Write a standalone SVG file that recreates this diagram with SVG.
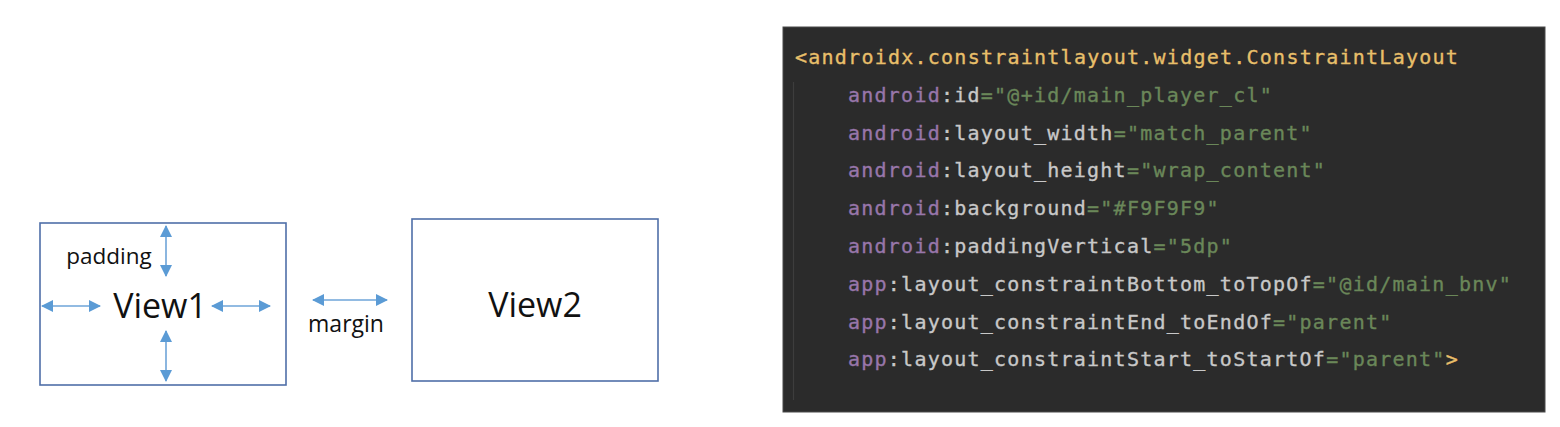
<svg xmlns="http://www.w3.org/2000/svg" width="1560" height="427" viewBox="0 0 1560 427">
<style>
.box{fill:#ffffff;stroke:#4f6fa8;stroke-width:1.6}
.lbl{font-family:"Open Sans","Noto Sans",sans-serif;fill:#111111}
.arr{stroke:#6ea4d8;stroke-width:1.6;fill:none;marker-start:url(#ah);marker-end:url(#ah)}
.code{font-family:"DejaVu Sans Mono","Liberation Mono",monospace;font-size:20px;letter-spacing:1.24px;stroke-width:0.35}
.tag{fill:#e8bf6a;stroke:#e8bf6a}
.ns{fill:#9876aa;stroke:#9876aa}
.at{fill:#c8c8c8;stroke:#c8c8c8}
.val{fill:#6a8759;stroke:#6a8759}
</style>
<defs>
<marker id="ah" viewBox="0 0 12 12" refX="11" refY="6" markerWidth="12" markerHeight="12" markerUnits="userSpaceOnUse" orient="auto-start-reverse">
<path d="M0,0 L12,6 L0,12 Z" fill="#5b9bd5"/>
</marker>
</defs>
<rect width="1560" height="427" fill="#ffffff"/>
<g id="view1">
<rect class="box" x="40" y="223" width="246" height="162"/>
<text class="lbl" x="160" y="318" font-size="34" text-anchor="middle">View1</text>
<text class="lbl" x="109" y="264" font-size="22.5" text-anchor="middle">padding</text>
</g>
<g id="view2">
<rect class="box" x="412" y="219" width="246" height="162"/>
<text class="lbl" x="535" y="317" font-size="34" text-anchor="middle">View2</text>
</g>
<g id="margin-label">
<text class="lbl" x="346" y="332" font-size="23" text-anchor="middle">margin</text>
</g>
<g id="connectors">
<line class="arr" x1="166" y1="226" x2="166" y2="276"/>
<line class="arr" x1="166" y1="331" x2="166" y2="381"/>
<line class="arr" x1="42" y1="306" x2="100" y2="306"/>
<line class="arr" x1="212" y1="306" x2="270" y2="306"/>
<line class="arr" x1="313" y1="300" x2="387" y2="300"/>
</g>
<g id="code-panel">
<rect x="783" y="27" width="762" height="385" fill="#2b2b2b" stroke="#4a4a4a" stroke-width="1"/>
<line x1="793.5" y1="82" x2="793.5" y2="400" stroke="#3d3d3d" stroke-width="1.2"/>
<text class="code" x="795" y="64"><tspan class="tag">&lt;androidx.constraintlayout.widget.ConstraintLayout</tspan></text>
<text class="code" x="848" y="102"><tspan class="ns">android</tspan><tspan class="at">:id</tspan><tspan class="val">="@+id/main_player_cl"</tspan></text>
<text class="code" x="848" y="140"><tspan class="ns">android</tspan><tspan class="at">:layout_width</tspan><tspan class="val">="match_parent"</tspan></text>
<text class="code" x="848" y="177"><tspan class="ns">android</tspan><tspan class="at">:layout_height</tspan><tspan class="val">="wrap_content"</tspan></text>
<text class="code" x="848" y="215"><tspan class="ns">android</tspan><tspan class="at">:background</tspan><tspan class="val">="#F9F9F9"</tspan></text>
<text class="code" x="848" y="253"><tspan class="ns">android</tspan><tspan class="at">:paddingVertical</tspan><tspan class="val">="5dp"</tspan></text>
<text class="code" x="848" y="291"><tspan class="ns">app</tspan><tspan class="at">:layout_constraintBottom_toTopOf</tspan><tspan class="val">="@id/main_bnv"</tspan></text>
<text class="code" x="848" y="329"><tspan class="ns">app</tspan><tspan class="at">:layout_constraintEnd_toEndOf</tspan><tspan class="val">="parent"</tspan></text>
<text class="code" x="848" y="366"><tspan class="ns">app</tspan><tspan class="at">:layout_constraintStart_toStartOf</tspan><tspan class="val">="parent"</tspan><tspan class="tag">&gt;</tspan></text>
</g>
</svg>
